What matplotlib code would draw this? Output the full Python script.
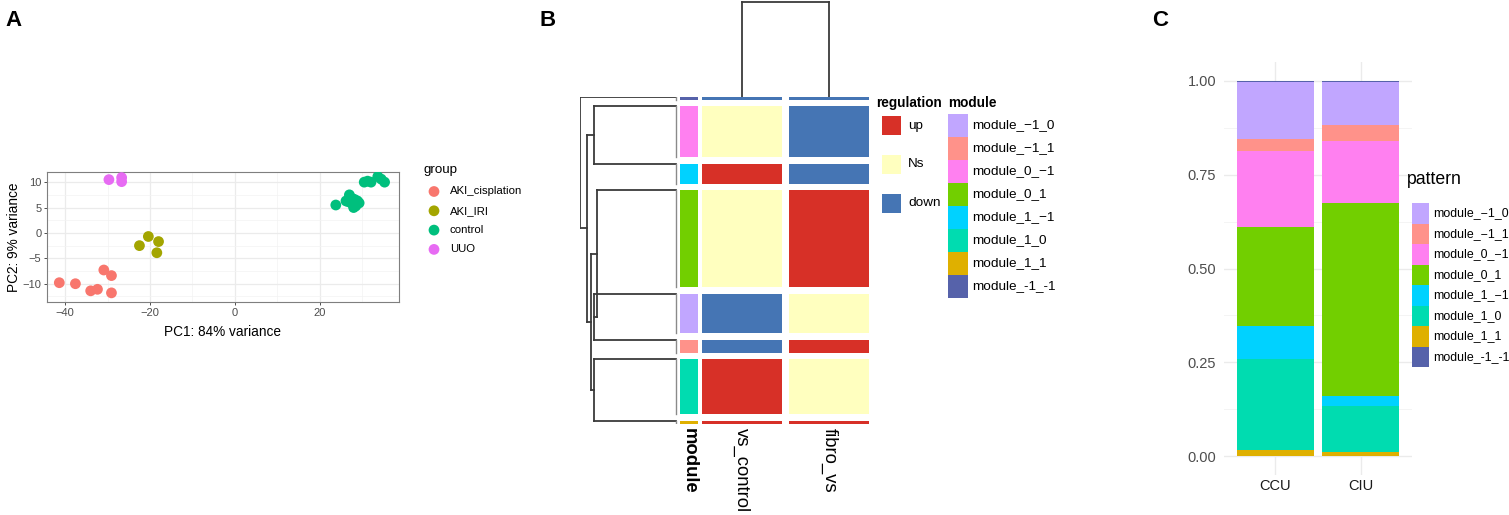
import matplotlib
matplotlib.use('Agg')
import matplotlib.pyplot as plt
import matplotlib.transforms as mtrans
from matplotlib.patches import Rectangle
from matplotlib.ticker import MultipleLocator, FixedLocator
import numpy as np

plt.rcParams['font.family'] = ['Liberation Sans', 'DejaVu Sans']

# ---------------- Panel A data (PCA) ----------------
groups = ['AKI_cisplation', 'AKI_IRI', 'control', 'UUO']
group_colors = ['#F8766D', '#A3A500', '#00BF7D', '#E76BF3']
pc1_cis = [-41.4, -37.6, -34.0, -32.4, -30.9, -29.1, -29.1]
pc2_cis = [-9.8, -10.0, -11.4, -11.1, -7.3, -8.4, -11.8]
pc1_iri = [-22.5, -20.4, -18.0, -18.4]
pc2_iri = [-2.5, -0.7, -1.7, -3.9]
pc1_ctl = [23.8, 26.6, 27.0, 28.2, 28.5, 29.3, 27.4, 26.2, 27.6, 28.0, 28.9, 30.5, 31.3, 32.1, 33.7, 34.5, 35.3]
pc2_ctl = [5.5, 6.2, 7.5, 6.6, 5.3, 5.9, 5.9, 6.3, 6.8, 5.0, 6.3, 10.0, 10.2, 10.0, 11.1, 10.6, 10.0]
pc1_uuo = [-29.7, -26.7, -26.7]
pc2_uuo = [10.5, 10.9, 10.1]
pca_x = [pc1_cis, pc1_iri, pc1_ctl, pc1_uuo]
pca_y = [pc2_cis, pc2_iri, pc2_ctl, pc2_uuo]

# ---------------- Panel B data (heatmap) ----------------
slice_modules = ['module_-1_-1', 'module_0_-1', 'module_1_-1', 'module_0_1',
                 'module_-1_0', 'module_-1_1', 'module_1_0', 'module_1_1']
slice_sizes = [2.5, 51, 20, 97, 39, 13, 55, 3]
vs_control = ['down', 'Ns', 'up', 'Ns', 'down', 'down', 'up', 'up']
fibro_vs = ['down', 'down', 'down', 'up', 'Ns', 'up', 'Ns', 'up']
heat_columns = ['vs_control', 'fibro_vs']
reg_levels = ['up', 'Ns', 'down']
reg_colors = ['#D73027', '#FFFFBF', '#4575B4']
module_keys = ['module_-1_0', 'module_-1_1', 'module_0_-1', 'module_0_1',
               'module_1_-1', 'module_1_0', 'module_1_1', 'module_-1_-1']
module_labels = ['module_\u22121_0', 'module_\u22121_1', 'module_0_\u22121', 'module_0_1',
                 'module_1_\u22121', 'module_1_0', 'module_1_1', 'module_-1_-1']
module_colors = ['#C1A6FF', '#FF928A', '#FF80F0', '#72CF00',
                 '#00D2FF', '#00DCB0', '#DFB000', '#5662AA']
# row dendrogram merges: (child_a, child_b, height); leaves are slices 0..7
row_merges = [(1, 2, 85.5), (4, 5, 85.5), (3, 9, 82.0), (6, 7, 85.5),
              (10, 11, 89.0), (8, 12, 92.4), (0, 13, 100.0)]
col_merge_height = 1.0

# ---------------- Panel C data (stacked bar) ----------------
samples = ['CCU', 'CIU']
stack_order = ['module_1_1', 'module_1_0', 'module_1_-1', 'module_0_1',
               'module_0_-1', 'module_-1_1', 'module_-1_0', 'module_-1_-1']
ccu_frac = [0.016, 0.244, 0.086, 0.264, 0.202, 0.033, 0.152, 0.003]
ciu_frac = [0.012, 0.121, 0.027, 0.514, 0.166, 0.043, 0.114, 0.003]

W, H = 1509, 515
fig = plt.figure(figsize=(W / 100, H / 100), dpi=100)


def px(x0, y0, x1, y1):
    return [x0 / W, 1 - y1 / H, (x1 - x0) / W, (y1 - y0) / H]


mod_color = dict(zip(module_keys, module_colors))
reg_color = dict(zip(reg_levels, reg_colors))

# ================= Panel A =================
axA = fig.add_axes(px(47, 172, 399, 302))
for xs, ys, c in zip(pca_x, pca_y, group_colors):
    axA.scatter(xs, ys, s=60, color=c, edgecolors='none', zorder=3)
axA.set_xlim(-44.3, 38.7)
axA.set_ylim(-13.6, 12.0)
axA.xaxis.set_major_locator(FixedLocator([-40, -20, 0, 20]))
axA.xaxis.set_minor_locator(FixedLocator([-30, -10, 10, 30]))
axA.yaxis.set_major_locator(FixedLocator([-10, -5, 0, 5, 10]))
axA.yaxis.set_minor_locator(FixedLocator([-12.5, -7.5, -2.5, 2.5, 7.5]))
axA.grid(which='major', color='#EBEBEB', lw=0.9, zorder=0)
axA.grid(which='minor', color='#F3F3F3', lw=0.5, zorder=0)
axA.set_axisbelow(True)
axA.tick_params(which='major', length=2.5, width=0.6, color='#333333', labelsize=8,
                labelcolor='#4D4D4D', pad=1.5)
axA.tick_params(which='minor', length=0)
for sp in axA.spines.values():
    sp.set_color('#7F7F7F')
    sp.set_linewidth(0.8)
axA.set_xlabel('PC1: 84% variance', fontsize=9.8, labelpad=5.5)
axA.set_ylabel('PC2: 9% variance', fontsize=9.8, labelpad=1)

# ================= Panel B =================
gap = 6.6
tops = []
t = 0.0
for s in slice_sizes:
    tops.append(t)
    t += s + gap
total = t - gap
hm_top_px = 97
hm_bot_px = hm_top_px + total

col_specs = [('module', 680, 698), ('vs_control', 702, 782), ('fibro_vs', 789, 869)]
col_axes = []
for name, x0, x1 in col_specs:
    ax = fig.add_axes(px(x0, hm_top_px, x1, hm_bot_px))
    if name == 'module':
        cols = [mod_color[m] for m in slice_modules]
    elif name == 'vs_control':
        cols = [reg_color[v] for v in vs_control]
    else:
        cols = [reg_color[v] for v in fibro_vs]
    ax.barh([tp + s / 2 for tp, s in zip(tops, slice_sizes)], 1, height=slice_sizes,
            left=0, color=cols, edgecolor='none')
    ax.set_xlim(0, 1)
    ax.set_ylim(total, 0)
    ax.axis('off')
    col_axes.append(ax)
    cx = (x0 + x1) / 2 / W
    fig.text(cx, 1 - 428 / H, name, rotation=-90, ha='center', va='top',
             fontsize=13.3, fontweight='bold' if name == 'module' else 'normal')

# row dendrogram
axD = fig.add_axes(px(580, hm_top_px, 680, hm_bot_px))
axD.set_ylim(total, 0)
axD.set_xlim(100, -100 * 4 / 96)
axD.axis('off')
node_y = {i: tops[i] for i in range(len(slice_sizes))}
node_h = {i: 0.0 for i in range(len(slice_sizes))}
dcol = '#3A3A3A'
for k, (a, b, h) in enumerate(row_merges):
    nid = len(slice_sizes) + k
    axD.plot([h, h], [node_y[a], node_y[b]], color=dcol, lw=1.3, solid_capstyle='projecting')
    for ch in (a, b):
        axD.plot([h, node_h[ch]], [node_y[ch], node_y[ch]], color=dcol, lw=1.3,
                 solid_capstyle='projecting')
    node_y[nid] = (node_y[a] + node_y[b]) / 2
    node_h[nid] = h
for tp, s in zip(tops, slice_sizes):
    axD.plot([0, 0], [tp, tp + s], color='#8A8A8A', lw=1.0)

# column dendrogram
axT = fig.add_axes(px(690, 0, 880, hm_top_px))
axT.set_ylim(0, col_merge_height * 1.02)
axT.axis('off')
tr = mtrans.blended_transform_factory(fig.transFigure, axT.transData)
cxs = []
for ax in col_axes[1:]:
    p = ax.get_position()
    cxs.append((p.x0 + p.x1) / 2)
for cx in cxs:
    axT.plot([cx, cx], [0, col_merge_height], color=dcol, lw=1.3, transform=tr)
axT.plot(cxs, [col_merge_height] * 2, color=dcol, lw=1.3, transform=tr)

# ================= Panel C =================
axC = fig.add_axes(px(1224, 62, 1412, 475))
xpos = np.arange(len(samples))
bottoms = np.zeros(len(samples))
for i, m in enumerate(stack_order):
    vals = np.array([ccu_frac[i], ciu_frac[i]])
    axC.bar(xpos, vals, bottom=bottoms, width=0.9, color=mod_color[m], edgecolor='none', zorder=3)
    bottoms += vals
axC.set_xlim(-0.6, 1.6)
axC.set_ylim(-0.05, 1.05)
axC.set_xticks(xpos)
axC.set_xticklabels(samples)
axC.set_yticks([0, 0.25, 0.5, 0.75, 1.0])
axC.set_yticklabels(['0.00', '0.25', '0.50', '0.75', '1.00'])
axC.yaxis.set_minor_locator(FixedLocator([0.125, 0.375, 0.625, 0.875]))
axC.grid(which='major', color='#EBEBEB', lw=1.0, zorder=0)
axC.grid(which='minor', axis='y', color='#F2F2F2', lw=0.6, zorder=0)
axC.tick_params(which='both', length=0)
axC.tick_params(axis='y', labelsize=10.5, labelcolor='#4D4D4D', pad=5.5)
axC.tick_params(axis='x', labelsize=10.5, labelcolor='#1A1A1A', pad=3)
for sp in axC.spines.values():
    sp.set_visible(False)

# ================= Legends / labels overlay =================
ov = fig.add_axes([0, 0, 1, 1])
ov.set_xlim(0, W)
ov.set_ylim(H, 0)
ov.axis('off')
ov.patch.set_alpha(0)

# panel letters
for letter, x in (('A', 14), ('B', 548), ('C', 1160)):
    ov.text(x, 20, letter, fontsize=16, fontweight='bold', ha='center', va='center')

# legend A
ov.text(423, 170, 'group', fontsize=9.6, ha='left', va='center')
for i, (g, c) in enumerate(zip(groups, group_colors)):
    y = 191.5 + i * 19.3
    ov.scatter([434], [y], s=60, color=c, edgecolors='none')
    ov.text(450, y, g, fontsize=8.2, ha='left', va='center')

# legend B: regulation
ov.text(876, 103, 'regulation', fontsize=9.8, fontweight='bold', ha='left', va='center')
for i, (lab, c) in enumerate(zip(reg_levels, reg_colors)):
    yc = 125.5 + i * 38.8
    ov.add_patch(Rectangle((881.7, yc - 9.5), 19, 19, facecolor=c, edgecolor='none'))
    ov.text(908, yc, lab, fontsize=9.7, ha='left', va='center')
# legend B: module
ov.text(948, 103, 'module', fontsize=9.8, fontweight='bold', ha='left', va='center')
for i, (lab, c) in enumerate(zip(module_labels, module_colors)):
    y0 = 114 + i * 23
    ov.add_patch(Rectangle((948, y0), 20, 23, facecolor=c, edgecolor='none'))
    ov.text(972, y0 + 11.5, lab, fontsize=9.7, ha='left', va='center')

# legend C
ov.text(1407, 180, 'pattern', fontsize=12.7, ha='left', va='center')
for i, (lab, c) in enumerate(zip(module_labels, module_colors)):
    y0 = 203.3 + i * 20.5
    ov.add_patch(Rectangle((1412, y0), 17, 20.5, facecolor=c, edgecolor='none'))
    ov.text(1433, y0 + 10.25, lab, fontsize=8.9, ha='left', va='center')

fig.savefig('out.png', dpi=100)
